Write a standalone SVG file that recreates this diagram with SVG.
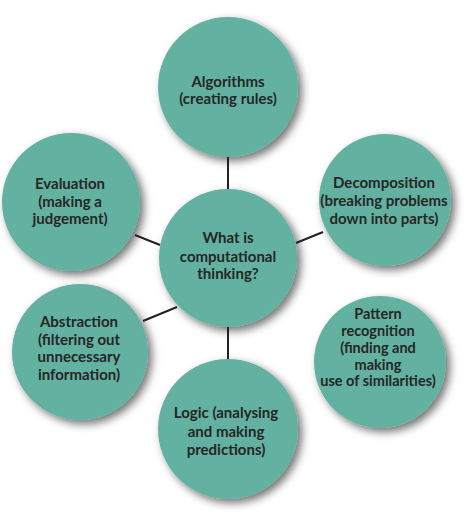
<svg xmlns="http://www.w3.org/2000/svg" width="474" height="519" viewBox="0 0 474 519">
<defs>
<filter id="sh" x="-30%" y="-30%" width="160%" height="160%">
<feDropShadow dx="4" dy="4" stdDeviation="4" flood-color="#000" flood-opacity="0.55"/>
</filter>
<style>
.c{fill:#64b1a0;filter:url(#sh)}
.t{font-family:Lato,"Open Sans","DejaVu Sans",sans-serif;font-weight:700;font-size:15px;fill:#262626;text-anchor:middle}
.p{font-size:14.5px}
.l{stroke:#222;stroke-width:2;fill:none}
</style>
</defs>
<rect width="474" height="519" fill="#fff"/>
<g id="algorithms">
<circle class="c" cx="228" cy="87" r="70"/>
<text class="t" x="228" y="87">Algorithms</text>
<text class="t" x="228" y="104">(creating rules)</text>
</g>
<g id="decomposition">
<circle class="c" cx="385" cy="200" r="66"/>
<text class="t" x="384" y="188">Decomposition</text>
<text class="t" x="384" y="206">(breaking problems</text>
<text class="t" x="384" y="224">down into parts)</text>
</g>
<g id="pattern">
<circle class="c" cx="380" cy="362" r="66"/>
<text class="t p" x="378" y="319">Pattern</text>
<text class="t p" x="378" y="336">recognition</text>
<text class="t p" x="378" y="353">(finding and</text>
<text class="t p" x="378" y="370">making</text>
<text class="t p" x="378" y="386">use of similarities)</text>
</g>
<g id="logic">
<circle class="c" cx="228" cy="429" r="70"/>
<text class="t" x="226" y="418">Logic (analysing</text>
<text class="t" x="226" y="437">and making</text>
<text class="t" x="226" y="455">predictions)</text>
</g>
<g id="abstraction">
<circle class="c" cx="80" cy="352" r="68"/>
<text class="t" x="79" y="327">Abstraction</text>
<text class="t" x="79" y="345">(filtering out</text>
<text class="t" x="79" y="362">unnecessary</text>
<text class="t" x="79" y="380">information)</text>
</g>
<g id="evaluation">
<circle class="c" cx="71" cy="202" r="69"/>
<text class="t" x="70" y="189">Evaluation</text>
<text class="t" x="70" y="207">(making a</text>
<text class="t" x="70" y="224">judgement)</text>
</g>
<g id="center">
<circle class="c" cx="228" cy="258" r="69"/>
<text class="t" x="228" y="243">What is</text>
<text class="t" x="228" y="262">computational</text>
<text class="t" x="228" y="279">thinking?</text>
</g>
<g id="connectors">
<line class="l" x1="228" y1="157" x2="228" y2="189"/>
<line class="l" x1="296" y1="243" x2="323" y2="232"/>
<line class="l" x1="135" y1="235" x2="160" y2="245"/>
<line class="l" x1="143" y1="321" x2="177" y2="307"/>
<line class="l" x1="228" y1="327" x2="228" y2="359"/>
</g>
</svg>
